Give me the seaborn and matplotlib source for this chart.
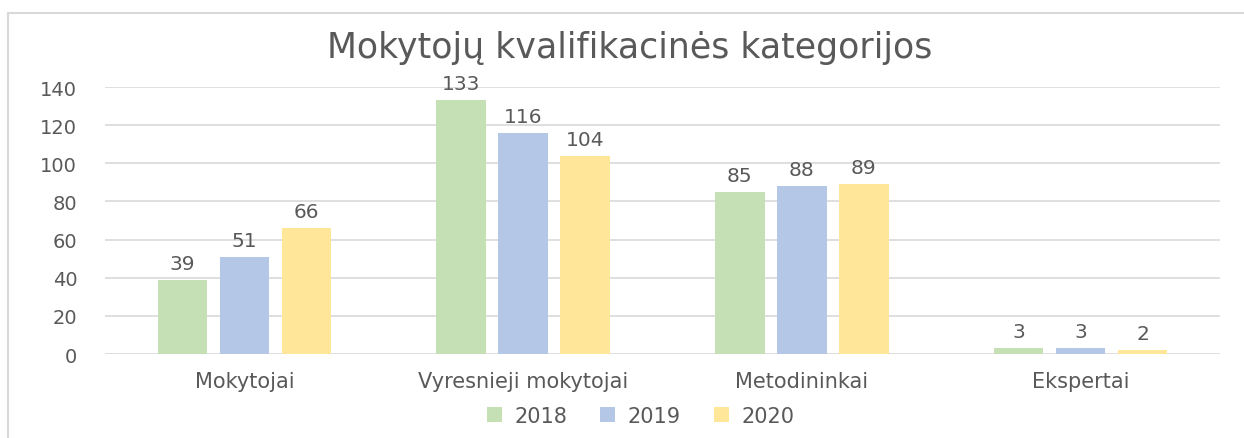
import pandas as pd
import matplotlib
matplotlib.use("Agg")
import matplotlib.pyplot as plt
import seaborn as sns
from matplotlib.patches import Patch
from matplotlib.lines import Line2D

categories = ["Mokytojai", "Vyresnieji mokytojai", "Metodininkai", "Ekspertai"]
years = ["2018", "2019", "2020"]
values_2018 = [39, 133, 85, 3]
values_2019 = [51, 116, 88, 3]
values_2020 = [66, 104, 89, 2]

colors = ["#C5E0B4", "#B4C7E7", "#FFE699"]
text_color = "#595959"

df = pd.DataFrame({
    "Kategorija": categories * 3,
    "Metai": [y for y in years for _ in categories],
    "Skaičius": values_2018 + values_2019 + values_2020,
})

sns.set_style("white")
plt.rcParams["font.family"] = ["DejaVu Sans"]

fig = plt.figure(figsize=(12.44, 4.39), dpi=100)
ax = fig.add_axes([0.0844, 0.1913, 0.8963, 0.6082])

sns.barplot(data=df, x="Kategorija", y="Skaičius", hue="Metai",
            palette=colors, width=0.667, gap=0.2, ax=ax, legend=False,
            saturation=1, edgecolor="none")

for cont in ax.containers:
    ax.bar_label(cont, padding=5, fontsize=14.5, color=text_color)

ax.set_ylim(0, 140)
ax.set_xlim(-0.5, 3.5)
ax.set_yticks(range(0, 141, 20))
ax.yaxis.grid(True, color="#D9D9D9", linewidth=1.2)
ax.set_axisbelow(True)
for s in ax.spines.values():
    s.set_visible(False)
ax.tick_params(axis="y", length=0, pad=20, labelsize=14, labelcolor=text_color)
ax.tick_params(axis="x", length=0, pad=12, labelsize=15, labelcolor=text_color)
ax.set_xlabel("")
ax.set_ylabel("")

fig.text(0.506, 0.89, "Mokytojų kvalifikacinės kategorijos", ha="center",
         va="center", fontsize=25, color=text_color)

handles = [Patch(facecolor=c, edgecolor="none") for c in colors]
fig.legend(handles, years, loc="center", bbox_to_anchor=(0.515, 0.05), ncol=3,
           frameon=False, fontsize=15, labelcolor=text_color,
           handlelength=0.7, handleheight=0.7, columnspacing=1.6, handletextpad=0.6)

top = (439 - 14) / 439
left = 8 / 1244
fig.add_artist(Line2D([left, 1.0], [top, top], transform=fig.transFigure,
                      color="#D9D9D9", linewidth=1.5))
fig.add_artist(Line2D([left, left], [0.0, top], transform=fig.transFigure,
                      color="#D9D9D9", linewidth=1.5))

fig.savefig("out.png", dpi=100)
